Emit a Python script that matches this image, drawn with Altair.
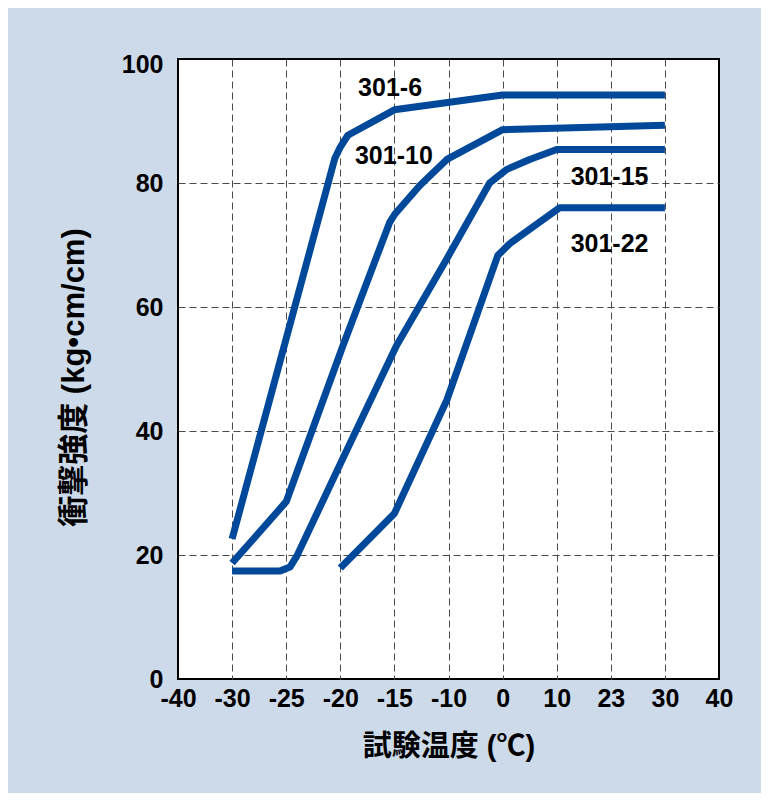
import altair as alt
import pandas as pd
import numpy as np

# axis ticks (evenly spaced categories on the temperature axis)
tick_temps = [-40, -30, -25, -20, -15, -10, 0, 10, 23, 30, 40]
tick_labels = ["-40", "-30", "-25", "-20", "-15", "-10", "0", "10", "23", "30", "40"]
y_ticks = [0, 20, 40, 60, 80, 100]

# series (temperature, impact strength)
s6_t = [-30, -20.5, -20, -19.3, -15, 0, 30]
s6_v = [22.6, 84.0, 85.8, 87.7, 91.8, 94.2, 94.2]
s10_t = [-30, -25, -19.75, -15.45, -14.95, -12.65, -10.15, 0, 30]
s10_v = [18.7, 28.6, 53.8, 73.6, 75.0, 79.6, 83.8, 88.6, 89.3]
s15_t = [-30, -25.6, -24.65, -24, -20.05, -14.8, -10.15, -2.4, 0.8, 5, 10, 30]
s15_v = [17.4, 17.4, 18.05, 19.9, 34.5, 53.8, 67.8, 80.0, 82.2, 83.8, 85.4, 85.4]
s22_t = [-20, -15, -10.15, -0.9, 1.3, 10.65, 30]
s22_v = [17.9, 26.7, 45.0, 68.3, 70.2, 76.0, 76.0]

series_names = ["301-6", "301-10", "301-15", "301-22"]
label_t = [-15.4, -15.05, 22.7, 22.7]
label_v = [94.1, 83.1, 79.7, 68.9]

tick_index = list(range(len(tick_temps)))


def to_pos(t):
    return np.interp(t, tick_temps, tick_index)


rows = []
for name, ts, vs in zip(series_names, [s6_t, s10_t, s15_t, s22_t], [s6_v, s10_v, s15_v, s22_v]):
    for i, (t, v) in enumerate(zip(ts, vs)):
        rows.append({"series": name, "i": i, "temp": t, "pos": float(to_pos(t)), "v": v})
df = pd.DataFrame(rows)

lab = pd.DataFrame({"series": series_names, "pos": [float(to_pos(t)) for t in label_t], "v": label_v})

label_expr = "[" + ",".join("'%s'" % s for s in tick_labels) + "][datum.value]"

x_enc = alt.X(
    "pos:Q",
    scale=alt.Scale(domain=[0, len(tick_temps) - 1], nice=False, zero=False),
    axis=alt.Axis(
        values=tick_index,
        labelExpr=label_expr,
        title="試験温度 (℃)",
        titleFont="Liberation Sans, Noto Sans CJK JP",
        titleFontSize=29,
        titleFontWeight="bold",
        titleColor="black",
        titleBaseline="middle",
        titleY=67,
        labelFont="Liberation Sans",
        labelFontSize=25,
        labelFontWeight="bold",
        labelColor="black",
        labelPadding=7,
        labelFlush=False,
        labelOverlap=False,
        ticks=False,
        domain=False,
        grid=True,
        gridColor="#4a4a4a",
        gridDash=[7, 4],
        gridWidth=1,
        gridOpacity={"condition": {"test": "datum.value == 0 || datum.value == 10", "value": 0}, "value": 1},
    ),
)

y_enc = alt.Y(
    "v:Q",
    scale=alt.Scale(domain=[0, 100], nice=False),
    axis=alt.Axis(
        values=y_ticks,
        title="衝撃強度 (kg•cm/cm)",
        titleFont="Liberation Sans, Noto Sans CJK JP",
        titleFontSize=31,
        titleFontWeight="bold",
        titleColor="black",
        titleBaseline="middle",
        titleAngle=270,
        titleX=-104,
        titleY=318,
        labelFont="Liberation Sans",
        labelFontSize=25,
        labelFontWeight="bold",
        labelColor="black",
        labelPadding=15,
        labelFlush=False,
        labelOverlap=False,
        labelOffset={"condition": {"test": "datum.value == 100", "value": 5}, "value": 0},
        ticks=False,
        domain=False,
        grid=True,
        gridColor="#4a4a4a",
        gridDash=[7, 4],
        gridWidth=1,
        gridOpacity={"condition": {"test": "datum.value == 0 || datum.value == 100", "value": 0}, "value": 1},
    ),
)

lines = alt.Chart(df).mark_line(
    color="#00489a", strokeWidth=7, strokeCap="butt", strokeJoin="round"
).encode(
    x=x_enc,
    y=y_enc,
    detail="series:N",
    order="i:Q",
)

texts = alt.Chart(lab).mark_text(
    font="Liberation Sans", fontSize=25, fontWeight="bold", color="black",
    align="center", baseline="alphabetic",
).encode(
    x=x_enc,
    y=y_enc,
    text="series:N",
)

chart = alt.layer(lines, texts).properties(
    width=541,
    height=620,
    autosize=alt.AutoSizeParams(type="none"),
    padding={"left": 170, "top": 51, "right": 42, "bottom": 114},
).configure(
    background="#cddae9",
).configure_view(
    fill="white",
    stroke="black",
    strokeWidth=2,
)

chart.save("out.html", embed_options={"renderer": "svg", "actions": False})
